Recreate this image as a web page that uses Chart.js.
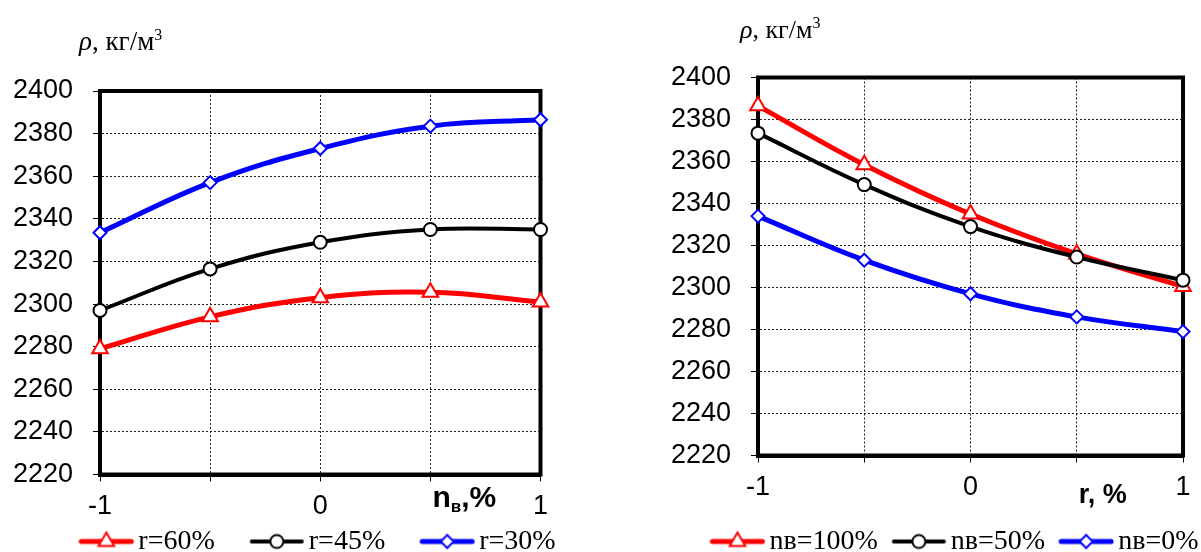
<!DOCTYPE html>
<html>
<head>
<meta charset="utf-8">
<script src="https://cdn.jsdelivr.net/npm/chart.js"></script>
<style>
  html, body { margin: 0; padding: 0; background: #fff; }
  body { width: 1201px; height: 552px; overflow: hidden; position: relative; }
  canvas { position: absolute; top: 0; }
  #leftChart  { left: 0; }
  #rightChart { left: 650px; }
</style>
</head>
<body>
<canvas id="leftChart" width="644" height="620"></canvas>
<canvas id="rightChart" width="618" height="620"></canvas>
<script>
// ── Data ────────────────────────────────────────────────────
const xSteps      = [-1, -0.5, 0, 0.5, 1];
const xShown      = [-1, 0, 1];
const yMin        = 2220;
const yMax        = 2400;
const yStep       = 20;

// left: density vs nв at fixed r
const leftLabels  = ['r=60%', 'r=45%', 'r=30%'];
const r60         = [2279, 2294, 2303, 2305.5, 2301];
const r45         = [2297, 2316.5, 2329, 2335, 2335];
const r30         = [2333.5, 2357, 2373, 2383.5, 2386.5];

// right: density vs r at fixed nв
const rightLabels = ['nв=100%', 'nв=50%', 'nв=0%'];
const nb100       = [2386.5, 2358.5, 2335, 2316, 2300.5];
const nb50        = [2373.5, 2349, 2329, 2314.5, 2303.5];
const nb0         = [2334, 2313, 2297, 2286, 2279];

// ── Series styles ───────────────────────────────────────────
const seriesColors = ['#ff0000', '#000000', '#0000ff'];
const lineWidths   = [5, 4, 5];
const markerStyles = ['triangle', 'circle', 'rectRot'];
const markerRadii  = [9, 6.5, 6.5];

const SANS  = '"Liberation Sans", Arial, sans-serif';
const SERIF = '"Liberation Serif", "Times New Roman", serif';
const LEGEND_SIZE = 28;

function drawMarker(g, style, r, x, y) {
  g.beginPath();
  if (style === 'circle') {
    g.arc(x, y, r, 0, Math.PI * 2);
  } else if (style === 'triangle') {
    for (let k = 0; k < 3; k++) {
      const a = k * 2 * Math.PI / 3;
      g.lineTo(x + Math.sin(a) * r, y - Math.cos(a) * r);
    }
    g.closePath();
  } else {
    g.moveTo(x, y - r); g.lineTo(x + r, y); g.lineTo(x, y + r); g.lineTo(x - r, y);
    g.closePath();
  }
  g.fill();
  g.stroke();
}

// legend icon: line with marker in the middle
function makeIcon(i) {
  const c = document.createElement('canvas');
  c.width = 56; c.height = 24;
  const g = c.getContext('2d');
  g.strokeStyle = seriesColors[i];
  g.lineWidth   = lineWidths[i];
  g.lineCap     = 'round';
  g.beginPath(); g.moveTo(3, 12); g.lineTo(53, 12); g.stroke();
  g.fillStyle = '#fff';
  g.lineWidth = 2;
  drawMarker(g, markerStyles[i], markerRadii[i], 28, 12);
  return c;
}
const icons = [0, 1, 2].map(makeIcon);

function makeDatasets(labels, series) {
  return series.map((vals, i) => ({
    label:                labels[i],
    data:                 xSteps.map((x, j) => ({ x, y: vals[j] })),
    borderColor:          seriesColors[i],
    borderWidth:          lineWidths[i],
    tension:              0.4,
    fill:                 false,
    clip:                 false,
    pointStyle:           markerStyles[i],
    pointRadius:          markerRadii[i],
    pointBorderWidth:     2,
    pointBackgroundColor: '#fff',
    pointBorderColor:     seriesColors[i],
    order:                2 - i,
  }));
}

// ── Plugins ─────────────────────────────────────────────────
const framePlugin = {
  id: 'frame',
  beforeDatasetsDraw(chart) {
    const { ctx, chartArea: a } = chart;
    ctx.save();
    ctx.strokeStyle = '#000';
    ctx.lineWidth = 4;
    ctx.strokeRect(a.left, a.top, a.right - a.left, a.bottom - a.top);
    ctx.restore();
  },
};

// move the legend row so its text sits at a given height
const legendRowPlugin = {
  id: 'legendRow',
  afterLayout(chart, args, opts) {
    const lg = chart.legend;
    if (!lg) return;
    const pad = lg.options.labels.padding;
    const d = opts.center - (lg.top + pad + LEGEND_SIZE / 2);
    lg.top += d;
    lg.bottom += d;
  },
};

function drawRun(ctx, parts, x, y) {
  parts.forEach(p => {
    ctx.font = p.font;
    ctx.fillText(p.t, x, y + (p.dy || 0));
    x += ctx.measureText(p.t).width;
  });
}

const titlesPlugin = {
  id: 'axisTitles',
  afterDraw(chart, args, opts) {
    const { ctx, chartArea: a } = chart;
    const xs = chart.scales.x;
    ctx.save();
    ctx.fillStyle = '#000';
    ctx.textAlign = 'left';
    ctx.textBaseline = 'alphabetic';
    drawRun(ctx, [
      { t: 'ρ',      font: 'italic ' + opts.ySize + 'px ' + SERIF },
      { t: ', кг/м', font: opts.ySize + 'px ' + SERIF },
      { t: '3',      font: '16px ' + SERIF, dy: -10 },
    ], a.left + opts.yDx, a.top + opts.yDy);
    drawRun(ctx, opts.xParts, xs.getPixelForValue(0.5) + opts.xDx, a.bottom + opts.xDy);
    ctx.restore();
  },
};

function makeOptions(o) {
  const tickFont = { family: SANS, size: 27 };
  return {
    responsive: false,
    animation: false,
    devicePixelRatio: 1,
    events: [],
    layout: { padding: { top: o.padTop, left: 0, right: 0, bottom: o.padBottom } },
    plugins: {
      tooltip: { enabled: false },
      legend: {
        position: 'bottom',
        labels: {
          usePointStyle:   true,
          pointStyleWidth: 36,
          padding:         o.legendPad,
          color:           '#000',
          font:            { family: SERIF, size: LEGEND_SIZE },
          generateLabels:  chart => chart.data.datasets.map((ds, i) => ({
            text: ds.label, pointStyle: icons[i], fillStyle: 'transparent',
            strokeStyle: 'transparent', lineWidth: 0, hidden: false,
            datasetIndex: i, fontColor: '#000',
          })),
        },
      },
      legendRow:  { center: o.legendCenter },
      axisTitles: o.titles,
    },
    scales: {
      x: {
        type: 'linear', min: -1, max: 1, position: 'bottom',
        ticks:  { stepSize: 0.5, autoSkip: false, maxRotation: 0, padding: 9, color: '#000',
                  font: tickFont, callback: v => xShown.includes(v) ? String(v) : '' },
        grid:   { color: '#222', lineWidth: 1, tickLength: 7, tickColor: '#000', tickWidth: 1 },
        border: { display: true, color: '#000', width: 4, dash: [2, 2] },
        afterFit: s => { s.height = 60; },
      },
      y: {
        type: 'linear', min: yMin, max: yMax, position: 'left',
        ticks:  { stepSize: yStep, padding: 20, color: '#000', font: tickFont, callback: v => String(v) },
        grid:   { color: '#222', lineWidth: 1, tickLength: 7, tickColor: '#000', tickWidth: 1 },
        border: { display: true, color: '#000', width: 4, dash: [2, 2] },
        afterFit: s => { s.width = o.yWidth; },
      },
      yR: {
        type: 'linear', axis: 'y', position: 'right', display: true,
        ticks:  { display: false },
        grid:   { display: false, drawOnChartArea: false },
        border: { display: false },
        afterFit: s => { s.width = o.rWidth; },
      },
    },
  };
}

// ── 1. Left chart ───────────────────────────────────────────
// canvas 620 high: 91 + area + 60 (x axis) + 82 (legend) + padBottom
new Chart(document.getElementById('leftChart'), {
  type: 'line',
  data: { datasets: makeDatasets(leftLabels, [r60, r45, r30]) },
  options: makeOptions({
    padTop: 91, padBottom: 3.5, yWidth: 100, rWidth: 103.5, legendPad: 44, legendCenter: 541.5,
    titles: {
      ySize: 27, yDx: -21, yDy: -41, xDx: 2, xDy: 32.5,
      xParts: [
        { t: 'n',  font: 'bold 30px ' + SANS },
        { t: 'в',  font: 'bold 17px ' + SANS, dy: 5 },
        { t: ',%', font: 'bold 30px ' + SANS },
      ],
    },
  }),
  plugins: [framePlugin, legendRowPlugin, titlesPlugin],
});

// ── 2. Right chart ──────────────────────────────────────────
new Chart(document.getElementById('rightChart'), {
  type: 'line',
  data: { datasets: makeDatasets(rightLabels, [nb100, nb50, nb0]) },
  options: makeOptions({
    padTop: 77.5, padBottom: 43.5, yWidth: 108, rWidth: 85, legendPad: 23, legendCenter: 541.5,
    titles: {
      ySize: 26, yDx: -18, yDy: -39.5, xDx: 2, xDy: 47,
      xParts: [{ t: 'r, %', font: 'bold 27px ' + SANS }],
    },
  }),
  plugins: [framePlugin, legendRowPlugin, titlesPlugin],
});
</script>
</body>
</html>
